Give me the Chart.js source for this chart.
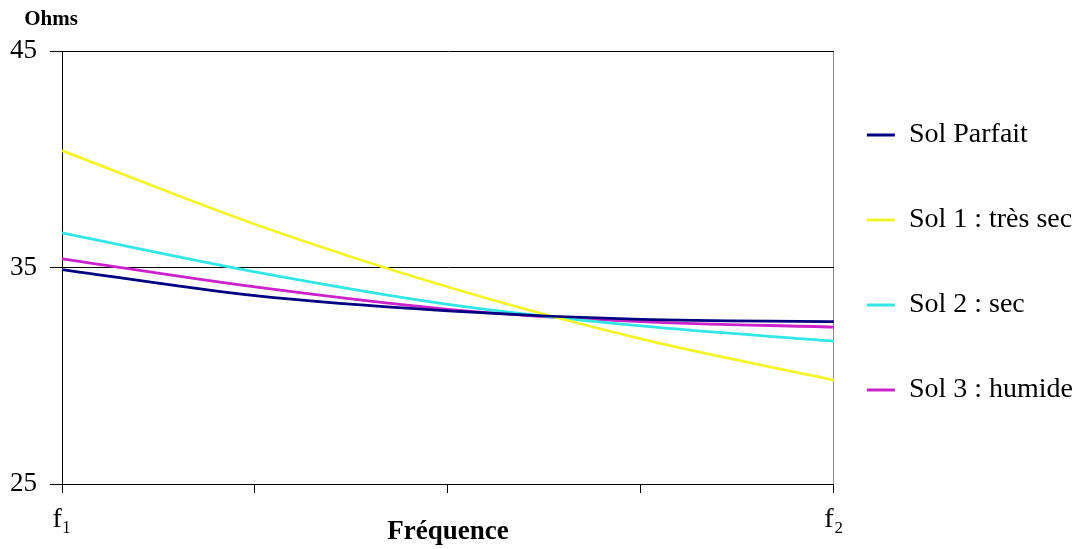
<!DOCTYPE html>
<html>
<head>
<meta charset="utf-8">
<script src="https://cdn.jsdelivr.net/npm/chart.js@4.4.1/dist/chart.umd.min.js"></script>
<style>
  html, body { margin: 0; padding: 0; background: #ffffff; }
  #wrap { width: 1080px; height: 549px; }
</style>
</head>
<body>
<div id="wrap"><canvas id="c" width="1080" height="549"></canvas></div>
<script>
const categories = ['f\u2081', '', '', '', 'f\u2082'];
const seriesNames = ['Sol Parfait', 'Sol 1 : très sec', 'Sol 2 : sec', 'Sol 3 : humide'];
const solParfait = [34.9, 33.7, 33.0, 32.6, 32.5];
const sol1 = [40.4, 37.0, 34.1, 31.7, 29.8];
const sol2 = [36.6, 34.8, 33.3, 32.3, 31.6];
const sol3 = [35.4, 34.1, 33.07, 32.5, 32.25];
const yTicks = [25, 35, 45];
const yTitle = 'Ohms';
const xTitle = 'Fréquence';
const colors = ['#000080', '#f4f42a', '#33e6e6', '#cc22cc'];

const FONT = "'Liberation Serif', 'DejaVu Serif', serif";
const values = [solParfait, sol1, sol2, sol3];

const ohmsPlugin = {
  id: 'ohms',
  afterDraw(chart) {
    const ctx = chart.ctx;
    ctx.save();
    ctx.font = 'bold 21px ' + FONT;
    ctx.fillStyle = '#000';
    ctx.textAlign = 'center';
    ctx.textBaseline = 'middle';
    ctx.fillText(yTitle, 51, 20);
    ctx.restore();
  }
};

new Chart(document.getElementById('c'), {
  type: 'line',
  data: {
    labels: categories,
    datasets: seriesNames.map((name, i) => ({
      label: name,
      data: values[i],
      borderColor: colors[i],
      backgroundColor: colors[i],
      borderWidth: 2.8,
      pointRadius: 0,
      tension: 0.4,
      cubicInterpolationMode: 'monotone',
      fill: false
    }))
  },
  options: {
    responsive: false,
    animation: false,
    devicePixelRatio: 1,
    layout: { padding: { top: 51, left: 0, bottom: 0, right: -3 } },
    plugins: {
      tooltip: { enabled: false },
      legend: {
        position: 'right',
        align: 'start',
        fullSize: false,
        title: { display: true, text: '', font: { size: 10, lineHeight: 1 }, padding: { top: 27, bottom: 0 } },
        labels: {
          color: '#000',
          boxWidth: 28,
          boxHeight: 3,
          padding: 33,
          font: { family: FONT, size: 28, lineHeight: '52px' },
          generateLabels(chart) {
            const items = Chart.defaults.plugins.legend.labels.generateLabels(chart);
            return items.map(it => Object.assign(it, { text: [it.text], lineWidth: 0, strokeStyle: 'transparent' }));
          }
        }
      }
    },
    scales: {
      x: {
        type: 'category',
        offset: false,
        afterFit(scale) { scale.height = 65; },
        border: { display: true, color: '#000', width: 1 },
        grid: {
          color: (c) => c.index === categories.length - 1 ? '#8a8a8a' : 'rgba(0,0,0,0)',
          tickColor: '#000',
          tickLength: 9,
          lineWidth: 1
        },
        ticks: {
          color: '#000',
          autoSkip: false,
          maxRotation: 0,
          padding: 10,
          font: { family: FONT, size: 28 }
        },
        title: {
          display: true,
          text: xTitle,
          color: '#000',
          font: { family: FONT, size: 27, weight: 'bold' },
          padding: { top: 0, bottom: 1 }
        }
      },
      y: {
        min: 25,
        max: 45,
        afterFit(scale) { scale.width = 62; },
        afterBuildTicks(scale) { scale.ticks = yTicks.map(v => ({ value: v })); },
        border: { display: true, color: '#000', width: 1 },
        grid: {
          color: '#000',
          tickColor: '#000',
          tickLength: 12,
          lineWidth: 1
        },
        ticks: {
          color: '#000',
          padding: 13,
          font: { family: FONT, size: 27 }
        }
      }
    }
  },
  plugins: [ohmsPlugin]
});
</script>
</body>
</html>
